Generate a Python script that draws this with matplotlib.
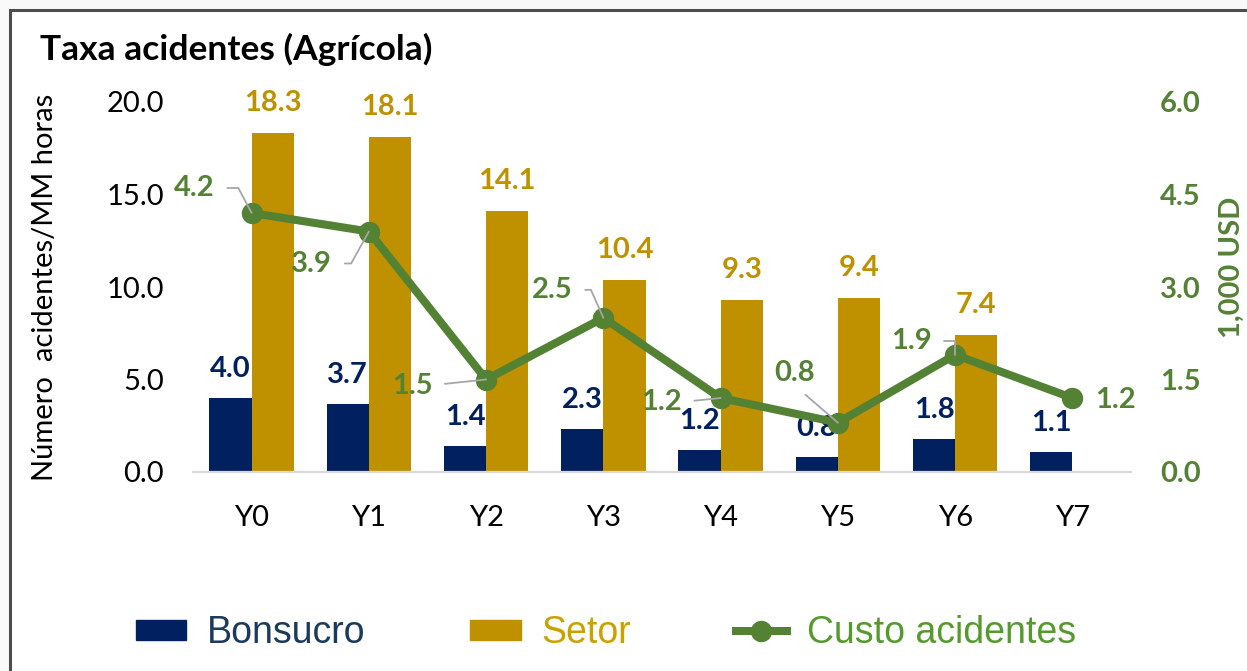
import numpy as np
import matplotlib.pyplot as plt
from matplotlib.patches import Rectangle
from matplotlib.lines import Line2D
from matplotlib.patches import Patch

years = ['Y0', 'Y1', 'Y2', 'Y3', 'Y4', 'Y5', 'Y6', 'Y7']
bonsucro = [4.0, 3.7, 1.4, 2.3, 1.2, 0.8, 1.8, 1.1]
setor = [18.3, 18.1, 14.1, 10.4, 9.3, 9.4, 7.4]
custo = [4.2, 3.9, 1.5, 2.5, 1.2, 0.8, 1.9, 1.2]
left_ticks = [0, 5, 10, 15, 20]
right_ticks = [0, 1.5, 3.0, 4.5, 6.0]

navy = '#002060'
gold = '#BF9000'
green = '#548235'
grey = '#A6A6A6'

plt.rcParams['font.family'] = ['Lato', 'DejaVu Sans']

fig = plt.figure(figsize=(12.47, 6.71), dpi=100)
fig.patch.set_facecolor('#F9F9F9')
fig.patches.append(Rectangle((9.5 / 1247, -0.1), 2, 1 - 9.5 / 671 + 0.1,
                             transform=fig.transFigure, facecolor='white',
                             edgecolor='#4D4D4D', linewidth=2.2, zorder=-1))

ax = fig.add_axes([193 / 1247, 1 - 472 / 671, (1131 - 193) / 1247, 370 / 671])
ax.set_facecolor('none')
x = np.arange(len(years))
w = 0.36

ax.bar(x - w / 2, bonsucro, w, color=navy)
ax.bar(x[:len(setor)] + w / 2, setor, w, color=gold)

for i, v in enumerate(bonsucro):
    ax.annotate(f'{v:.1f}', (x[i] - w / 2, v), xytext=(0, 29), textcoords='offset pixels',
                ha='center', va='center', fontsize=21, fontweight='bold', color=navy)
for i, v in enumerate(setor):
    ax.annotate(f'{v:.1f}', (x[i] + w / 2, v), xytext=(0, 30), textcoords='offset pixels',
                ha='center', va='center', fontsize=21, fontweight='bold', color=gold)

ax.set_xlim(-0.5, 7.5)
ax.set_ylim(0, 20)
ax.set_yticks(left_ticks)
ax.set_yticklabels([f'{t:.1f}' for t in left_ticks])
ax.set_xticks(x)
ax.set_xticklabels(years)
ax.tick_params(axis='both', length=0, labelsize=21, colors='black')
ax.tick_params(axis='y', pad=21)
ax.tick_params(axis='x', pad=24)
for s in ['top', 'right', 'left']:
    ax.spines[s].set_visible(False)
ax.spines['bottom'].set_color('#D9D9D9')
ax.spines['bottom'].set_linewidth(1.6)
ax.text(-0.158, 0.5, 'Número  acidentes/MM horas', transform=ax.transAxes,
        rotation=90, ha='center', va='center', fontsize=21)

ax2 = ax.twinx()
ax2.plot(x, custo, color=green, linewidth=5.8, marker='o', markersize=14.4,
         solid_capstyle='round')
ax2.set_ylim(0, 6)
ax2.set_yticks(right_ticks)
ax2.set_yticklabels([f'{t:.1f}' for t in right_ticks])
ax2.tick_params(axis='y', length=0, labelsize=21, pad=21, labelcolor=green)
for lab in ax2.get_yticklabels():
    lab.set_fontweight('bold')
for s in ax2.spines.values():
    s.set_visible(False)
ax2.text(1.108, 0.554, '1,000 USD', transform=ax2.transAxes, rotation=90,
         ha='center', va='center', fontsize=21, fontweight='bold', color=green)

# label offsets (pixels), leader style
label_pos = [
    ((-57, 25), 'angle,angleA=0,angleB=118,rad=0', (1, 0.5)),
    ((-57, -32), 'angle,angleA=0,angleB=61,rad=0', (1, 0.5)),
    ((-74, -6), 'angle,angleA=0,angleB=6,rad=0', (1, 0.5)),
    ((-51, 28), 'angle,angleA=0,angleB=114,rad=0', (1, 0.5)),
    ((-59, -4), 'arc3', (1, 0.5)),
    ((-43, 50), 'arc3', (0.5, 0)),
    ((-44, 14), 'angle,angleA=0,angleB=90,rad=0', (1, 0.5)),
    ((43, -2), None, None),
]
for i, v in enumerate(custo):
    off, conn, rel = label_pos[i]
    props = None
    if conn:
        props = dict(arrowstyle='-', color=grey, lw=1.3, connectionstyle=conn,
                     relpos=rel, shrinkA=7, shrinkB=0)
    ax2.annotate(f'{v:.1f}', (x[i], v), xytext=off, textcoords='offset pixels',
                 ha='center', va='center', fontsize=21, fontweight='bold',
                 color=green, arrowprops=props, zorder=5)

fig.text(40 / 1247, 1 - 49 / 671, 'Taxa acidentes (Agrícola)', fontsize=25.5,
         fontweight='bold', ha='left', va='center')

handles = [Patch(color=navy), Patch(color=gold),
           Line2D([0], [0], color=green, lw=5.8, marker='o', markersize=14.4)]
leg = fig.legend(handles, ['Bonsucro', 'Setor', 'Custo acidentes'], ncol=3,
                 loc='center', bbox_to_anchor=(606 / 1247, 1 - 633 / 671),
                 frameon=False, handlelength=1.35, handleheight=0.45,
                 handletextpad=0.55, columnspacing=2.8,
                 prop={'family': ['Liberation Sans Narrow', 'Liberation Sans'], 'size': 27})
for t, c in zip(leg.get_texts(), ['#1B3A5C', '#C9A200', '#559A2C']):
    t.set_color(c)

fig.savefig('out.png', dpi=100, facecolor=fig.get_facecolor())
